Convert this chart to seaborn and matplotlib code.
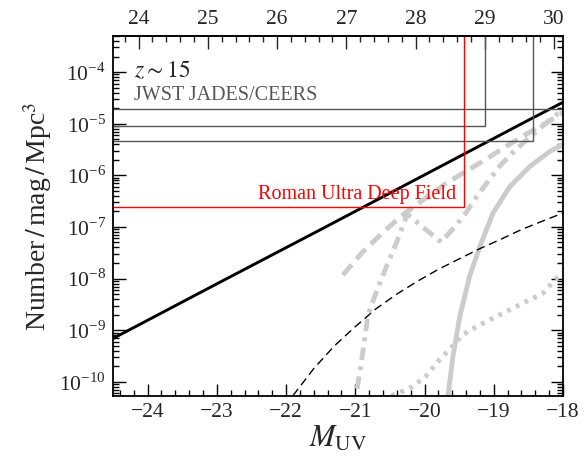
import numpy as np
import pandas as pd
import matplotlib
matplotlib.use("Agg")
import matplotlib.pyplot as plt
import seaborn as sns
from matplotlib.ticker import FixedLocator, MultipleLocator, NullFormatter, FuncFormatter

# ---------------- data ----------------
# black solid power law
M_solid = [-24.5, -23.0, -21.5, -20.0, -18.5, -18.0]
phi_solid = [6.9e-10, 7.9e-9, 8.9e-8, 1.02e-6, 1.17e-5, 2.6e-5]

# thin black dashed
M_bdash = [-21.9, -21.6, -21.3, -21.0, -20.7, -20.4, -20.1, -19.8, -19.5, -19.2, -18.9, -18.6, -18.3, -18.0]
phi_bdash = [5.4e-11, 1.8e-10, 5.0e-10, 1.17e-9, 2.6e-9, 5.0e-9, 8.9e-9, 1.51e-8, 2.4e-8, 3.8e-8,
             5.75e-8, 8.9e-8, 1.29e-7, 1.86e-7]

# gray solid
M_gsolid = [-19.7, -19.66, -19.59, -19.49, -19.35, -19.2, -19.01, -18.77, -18.48, -18.19, -18.0]
phi_gsolid = [2.0e-11, 5.4e-11, 3.1e-10, 1.86e-9, 1.1e-8, 4.2e-8, 1.86e-7, 6.0e-7, 1.48e-6, 2.9e-6, 4.0e-6]

# gray dashed
M_gdash = [-21.18, -20.9, -20.6, -20.3, -20.0, -19.7, -19.4, -19.1, -18.8, -18.5, -18.2, -18.0]
phi_gdash = [1.17e-8, 3.2e-8, 7.9e-8, 1.78e-7, 3.5e-7, 6.8e-7, 1.2e-6, 2.1e-6, 3.8e-6, 6.6e-6, 1.12e-5, 1.66e-5]

# gray dash-dot
M_gdd = [-21.02, -20.99, -20.92, -20.82, -20.72, -20.53, -20.39, -20.25, -20.0, -19.76,
         -19.55, -19.4, -19.25, -19.1, -18.9, -18.7, -18.5, -18.3, -18.0]
phi_gdd = [2.0e-11, 5.4e-11, 2.0e-10, 1.86e-9, 4.5e-9, 2.0e-8, 5.6e-8, 1.78e-7, 9.3e-8, 5.1e-8,
           1.05e-7, 1.9e-7, 3.8e-7, 7.1e-7, 1.58e-6, 3.0e-6, 5.2e-6, 8.9e-6, 1.9e-5]

# gray dotted
M_gdot = [-20.48, -20.31, -20.17, -19.98, -19.78, -19.64, -19.45, -19.25, -18.96, -18.67, -18.29, -18.07, -18.0]
phi_gdot = [5.4e-11, 6.6e-11, 8.1e-11, 1.29e-10, 2.7e-10, 4.2e-10, 8.1e-10, 1.17e-9, 1.86e-9,
            2.9e-9, 5.2e-9, 1.1e-8, 1.3e-8]

# survey limits (apparent magnitude, number density)
jwst_mlim = [30.2, 29.0, 29.7]
jwst_phi = [1.9e-5, 9.0e-6, 4.6e-6]
roman_mlim = 28.7
roman_phi = 2.45e-7

bottom_ticks = [-24, -23, -22, -21, -20, -19, -18]
top_ticks = [24, 25, 26, 27, 28, 29, 30]
y_exponents = [-10, -9, -8, -7, -6, -5, -4]
DM = 48.13  # m = M_UV + DM at z~15

# ---------------- plot ----------------
sns.set_theme(style="ticks")
plt.rcParams['font.family'] = ['Liberation Serif', 'DejaVu Serif']
plt.rcParams['mathtext.fontset'] = 'stix'
plt.rcParams['axes.unicode_minus'] = True

fig = plt.figure(figsize=(5.87, 4.63), dpi=100)
ax = fig.add_axes([0.1925, 0.1447, 0.9591 - 0.1925, 0.9222 - 0.1447])

lg = "#cccccc"
sns.lineplot(x=M_gsolid, y=phi_gsolid, ax=ax, color=lg, lw=3.5, sort=False, solid_capstyle='butt')
sns.lineplot(x=M_gdash, y=phi_gdash, ax=ax, color=lg, lw=3.5, sort=False,
             linestyle=(0, (2.8, 1.5)))
sns.lineplot(x=M_gdd, y=phi_gdd, ax=ax, color=lg, lw=3.5, sort=False,
             linestyle=(0, (2.6, 1.3, 0.8, 1.3)))
sns.lineplot(x=M_gdot, y=phi_gdot, ax=ax, color=lg, lw=3.5, sort=False,
             linestyle=(0, (0.8, 1.2)))
sns.lineplot(x=M_bdash, y=phi_bdash, ax=ax, color="black", lw=1.0, sort=False,
             linestyle=(0, (6, 3.5)))
sns.lineplot(x=M_solid, y=phi_solid, ax=ax, color="black", lw=2.1, sort=False)

# survey boxes
for ml, ph in zip(jwst_mlim, jwst_phi):
    Ml = ml - DM
    ax.plot([-30, Ml, Ml], [ph, ph, 1.0], color="#555555", lw=1.0)
Mr = roman_mlim - DM
ax.plot([-30, Mr, Mr], [roman_phi, roman_phi, 1.0], color="red", lw=1.0)

ax.set_yscale('log')
ax.set_xlim(-24.5, -18.0)
ax.set_ylim(5.3e-11, 5.0e-4)

ax.text(-24.2, 1.05e-4, r"$z\sim15$", fontsize=17, va='center', ha='left')
ax.text(-24.2, 2.9e-5, "JWST JADES/CEERS", fontsize=14.5, color="#555555", va='baseline', ha='left')
ax.text(Mr - 0.12, 3.45e-7, "Roman Ultra Deep Field", fontsize=14.5, color="red", va='baseline', ha='right')

ax.set_xlabel(r"$M_{\rm UV}$", fontsize=22, labelpad=2)
ax.set_ylabel(r"Number$\,/\,$mag$\,/\,$Mpc$^3$", fontsize=20, labelpad=4)

# ticks
ax.xaxis.set_major_locator(FixedLocator(bottom_ticks))
ax.xaxis.set_minor_locator(MultipleLocator(0.2))
ax.set_xticklabels(["\u2212%d" % abs(t) for t in bottom_ticks])
yt = [10.0 ** e for e in y_exponents]
ax.yaxis.set_major_locator(FixedLocator(yt))
minor = [k * 10.0 ** e for e in range(-11, -3) for k in range(2, 10)]
ax.yaxis.set_minor_locator(FixedLocator(minor))
ax.yaxis.set_minor_formatter(NullFormatter())
ax.set_yticklabels([r"10$^{\mathregular{%d}}$" % e for e in y_exponents])

ax.tick_params(which='both', direction='in', top=False, right=True, labelsize=15.5, width=1.0, color='black')
ax.tick_params(which='major', length=9, pad=5)
ax.tick_params(which='minor', length=4.5)
for lab in ax.get_xticklabels() + ax.get_yticklabels():
    lab.set_fontfamily(['Liberation Serif', 'DejaVu Serif'])

for s in ax.spines.values():
    s.set_linewidth(1.3)
    s.set_color('black')

sec = ax.secondary_xaxis('top', functions=(lambda M: M + DM, lambda m: m - DM))
sec.xaxis.set_major_locator(FixedLocator(top_ticks))
sec.xaxis.set_minor_locator(MultipleLocator(0.2))
sec.set_xticklabels([str(t) for t in top_ticks])
sec.tick_params(which='both', direction='in', labelsize=15.5, width=1.0)
sec.tick_params(which='major', length=9, pad=5)
sec.tick_params(which='minor', length=4.5)
for lab in sec.get_xticklabels():
    lab.set_fontfamily(['Liberation Serif', 'DejaVu Serif'])

fig.savefig("out.png", dpi=100)
